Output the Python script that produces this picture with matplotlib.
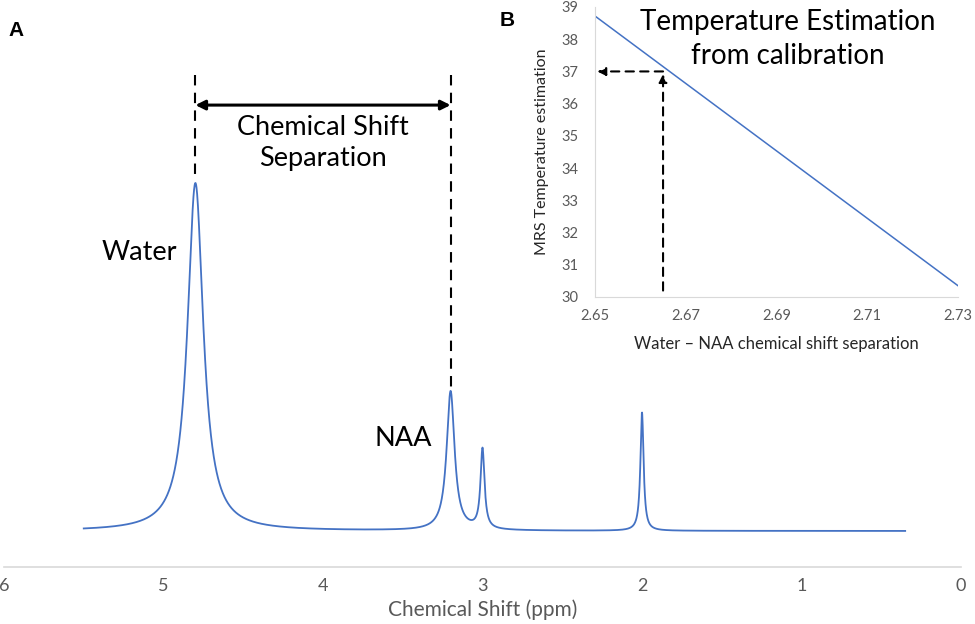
import numpy as np
import matplotlib.pyplot as plt

# Panel A: simulated spectrum, peaks
peak_ppm = [4.8, 3.2, 3.0, 2.0]
peak_height = [1.0, 0.40, 0.23, 0.34]
peak_hwhm = [0.06, 0.03, 0.015, 0.012]
ppm_start, ppm_end = 5.5, 0.35
ppm_ticks = [6, 5, 4, 3, 2, 1, 0]

# Panel B: calibration line
sep = [2.65, 2.73]
temp = [38.72, 30.35]
sep_ticks = [2.65, 2.67, 2.69, 2.71, 2.73]
temp_ticks = list(range(30, 40))
meas_sep, meas_temp = 2.665, 37.0

blue = '#4472C4'
grey_txt = '#595959'
grey_ax = '#D9D9D9'
plt.rcParams['font.family'] = ['Lato', 'DejaVu Sans']

fig = plt.figure(figsize=(9.75, 6.24), dpi=100)

# ---- main spectrum
ax = fig.add_axes([4/975, 1 - 567/624, 957/975, 567/624])
x = np.linspace(ppm_start, ppm_end, 4000)
y = np.zeros_like(x)
for c, h, g in zip(peak_ppm, peak_height, peak_hwhm):
    y += h / (1 + ((x - c) / g) ** 2)
ax.plot(x, y, color=blue, lw=1.3)
ax.set_xlim(6, 0)
ax.set_ylim(-0.1034, 1.526)
ax.set_xticks(ppm_ticks)
ax.tick_params(axis='x', length=0, labelsize=13, labelcolor=grey_txt, pad=8)
ax.set_yticks([])
for s in ['left', 'right', 'top']:
    ax.spines[s].set_visible(False)
ax.spines['bottom'].set_color(grey_ax)
ax.spines['bottom'].set_linewidth(1.2)
ax.set_xlabel('Chemical Shift (ppm)', fontsize=15, color=grey_txt, labelpad=4)

top = 1.31
ax.plot([peak_ppm[0]] * 2, [top, 1.005], ls=(0, (5, 3.5)), color='black', lw=1.5)
ax.plot([peak_ppm[1]] * 2, [top, 0.41], ls=(0, (5, 3.5)), color='black', lw=1.5)
ax.annotate('', xy=(peak_ppm[1], 1.224), xytext=(peak_ppm[0], 1.224),
            arrowprops=dict(arrowstyle='<|-|>', color='black', lw=2.2,
                            mutation_scale=14, shrinkA=0, shrinkB=0))
ax.text(4.0, 1.115, 'Chemical Shift\nSeparation', ha='center', va='center',
        fontsize=19.5, linespacing=1.3)
ax.text(5.15, 0.80, 'Water', ha='center', va='center', fontsize=19.5)
ax.text(3.5, 0.265, 'NAA', ha='center', va='center', fontsize=19.5)

fig.text(8/975, 1 - 30/624, 'A', fontsize=15, fontweight='bold',
         family='Liberation Sans', va='center')
fig.text(500/975, 1 - 20/624, 'B', fontsize=15, fontweight='bold',
         family='Liberation Sans', va='center')

# ---- inset calibration
ax2 = fig.add_axes([595/975, 1 - 297/624, 363/975, 290/624])
ax2.plot(sep, temp, color=blue, lw=1.1)
ax2.set_xlim(2.65, 2.73)
ax2.set_ylim(30, 39)
ax2.set_xticks(sep_ticks)
ax2.set_xticklabels([f'{v:.2f}' for v in sep_ticks])
ax2.set_yticks(temp_ticks)
ax2.tick_params(length=0, labelsize=10.5, labelcolor=grey_txt)
ax2.tick_params(axis='x', pad=9)
ax2.tick_params(axis='y', pad=12)
for s in ['right', 'top']:
    ax2.spines[s].set_visible(False)
for s in ['left', 'bottom']:
    ax2.spines[s].set_color(grey_ax)
ax2.set_xlabel('Water \u2013 NAA chemical shift separation', fontsize=12,
               color='#262626', labelpad=9)
ax2.set_ylabel('MRS Temperature estimation', fontsize=11.5, color='#262626',
               labelpad=9)
ax2.text(2.6925, 38.0, 'Temperature Estimation\nfrom calibration',
         ha='center', va='center', fontsize=20, linespacing=1.4)
ax2.annotate('', xy=(meas_sep, meas_temp - 0.08), xytext=(meas_sep, 30.2),
             arrowprops=dict(arrowstyle='-|>', ls=(0, (4, 3)), color='black',
                             lw=1.5, mutation_scale=12, shrinkA=0, shrinkB=0))
ax2.annotate('', xy=(2.6505, meas_temp), xytext=(meas_sep, meas_temp),
             arrowprops=dict(arrowstyle='-|>', ls=(0, (4, 3)), color='black',
                             lw=1.5, mutation_scale=12, shrinkA=0, shrinkB=0))

fig.savefig('out.png', dpi=100)
